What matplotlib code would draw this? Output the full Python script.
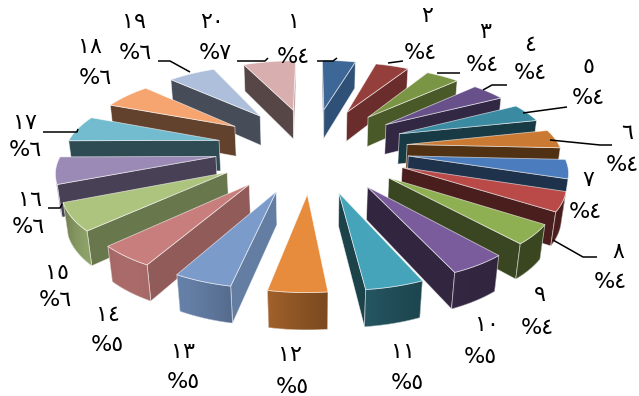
import numpy as np
import matplotlib
matplotlib.use("Agg")
import matplotlib.pyplot as plt
from matplotlib.patches import Polygon
from matplotlib.colors import to_rgb

# ---- data -------------------------------------------------------------
categories = list(range(1, 21))
shares = [4.3, 4.3, 4.3, 4.3, 4.3, 4.3, 4.3, 4.3, 4.3,
          4.8, 4.8, 4.8, 4.8, 4.8,
          6.1, 6.1, 6.1, 6.1, 6.1,
          6.8]
top_colors = ["#3D6797", "#953F3C", "#7A9543", "#68518A", "#3A8AA2", "#CB7A33",
              "#4B7DBE", "#B94A47", "#8FB052", "#7A5C9D", "#45A4BA", "#E78B3D",
              "#7B9BCB", "#C87E7C", "#ADC47F", "#9C8AB6", "#73BBCF", "#F6A470",
              "#AEBFDB", "#D8AEAE"]

# label anchors (pixel centres): number line, percent line
num_pos = [(294, 22), (427, 16), (485, 32), (530, 45), (588, 67), (627, 133),
           (588, 180), (618, 252), (540, 295), (487, 325), (403, 352), (290, 355),
           (183, 352), (108, 315), (57, 273), (30, 200), (25, 123), (90, 47),
           (134, 22), (212, 22)]
pct_pos = [(293, 57), (420, 53), (482, 65), (530, 73), (588, 98), (622, 165),
           (585, 212), (610, 282), (537, 328), (480, 357), (407, 383), (292, 387),
           (183, 382), (107, 345), (55, 300), (28, 227), (25, 150), (95, 78),
           (135, 53), (215, 53)]
leaders = {
    1: [(317, 61), (333, 61), (337, 58)],
    2: [(403, 61), (388, 63)],
    3: [(460, 73), (437, 73)],
    4: [(507, 85), (492, 85), (483, 90)],
    5: [(567, 107), (523, 113)],
    6: [(612, 145), (600, 145), (550, 140)],
    8: [(597, 257), (583, 257), (553, 240)],
    16: [(48, 208), (60, 208), (62, 204)],
    17: [(43, 132), (77, 132), (78, 129)],
    19: [(158, 61), (170, 61), (190, 72)],
    20: [(237, 61), (265, 61), (268, 58)],
}

AR_DIGITS = str.maketrans("0123456789", "٠١٢٣٤٥٦٧٨٩")


def ar(n):
    return str(n).translate(AR_DIGITS)


# ---- 3D pie geometry ------------------------------------------------------
W, HPX = 639, 396
CX, CY = 312, 179
R = 1.0
EXPLODE = 0.63
THICK = 0.23
ELEV = np.radians(28)
DIST = 6.0
FOCAL = 900.0

cam = np.array([0.0, -DIST * np.cos(ELEV), DIST * np.sin(ELEV)])
e_right = np.array([1.0, 0.0, 0.0])
e_fwd = np.array([0.0, np.cos(ELEV), -np.sin(ELEV)])
e_up = np.array([0.0, np.sin(ELEV), np.cos(ELEV)])


def project(P):
    P = np.atleast_2d(P)
    rel = P - cam
    zc = rel @ e_fwd
    return np.column_stack([FOCAL * (rel @ e_right) / zc,
                            FOCAL * (rel @ e_up) / zc]), zc


def dirv(phi):
    return np.array([np.sin(phi), np.cos(phi)])


def facing(normal, point):
    return np.dot(normal, cam - point) > 0


def shade(rgb, f):
    return np.clip(np.array(rgb) * f, 0, 1)


L_OUT = np.array([-0.6, -0.8])

total = sum(shares)
bounds = np.concatenate([[0.0], np.cumsum(shares)]) / total * 2 * np.pi

fig = plt.figure(figsize=(W / 100, HPX / 100), dpi=100)
ax = fig.add_axes([0, 0, 1, 1])
ax.axis("off")

EDGE = (1, 1, 1, 0.6)
zorder = [1.0]


def next_z():
    zorder[0] += 0.01
    return zorder[0]


slices = []
for i, v in enumerate(shares):
    a0, a1 = bounds[i], bounds[i + 1]
    mid = 0.5 * (a0 + a1)
    off = EXPLODE * dirv(mid)
    n = max(8, int(np.degrees(a1 - a0) / 1.0))
    phis = np.linspace(a0, a1, n)
    rim = np.array([off + R * dirv(p) for p in phis])
    cen = np.array([*(off + 0.5 * R * dirv(mid)), THICK / 2])
    _, zc = project(cen)
    slices.append(dict(i=i, a0=a0, a1=a1, off=off, phis=phis, rim=rim, depth=zc[0]))

slices.sort(key=lambda s: -s["depth"])

for s in slices:
    rgb = to_rgb(top_colors[s["i"]])
    off, rim, phis = s["off"], s["rim"], s["phis"]
    tip_t = np.array([*off, THICK])
    tip_b = np.array([*off, 0.0])

    # radial walls
    for ang, sign in ((s["a0"], -1), (s["a1"], 1)):
        nrm2 = sign * np.array([np.cos(ang), -np.sin(ang)])
        nrm = np.array([*nrm2, 0.0])
        o = off + R * dirv(ang)
        quad = np.array([tip_t, [*o, THICK], [*o, 0.0], tip_b])
        if facing(nrm, quad.mean(axis=0)):
            f = 0.4 + 0.42 * max(0.0, nrm2[0]) ** 2
            pts, _ = project(quad)
            ax.add_patch(Polygon(pts, closed=True, facecolor=shade(rgb, f),
                                 edgecolor=EDGE, lw=0.6, joinstyle="round",
                                 zorder=next_z()))

    # curved outer wall, shaded smoothly across its visible part
    vis, xs, cols = [], [], []
    for j in range(len(phis) - 1):
        pm = 0.5 * (phis[j] + phis[j + 1])
        nrm2 = dirv(pm)
        nrm = np.array([*nrm2, 0.0])
        pmid = np.array([*(off + R * nrm2), THICK / 2])
        if facing(nrm, pmid):
            f = 0.4 + 0.45 * max(0.0, float(nrm2 @ L_OUT)) ** 4
            vis.append(j)
            xs.append(project(pmid)[0][0, 0])
            cols.append(shade(rgb, f))
    if vis:
        j0, j1 = vis[0], vis[-1] + 1
        top_arc = np.array([[*rim[k], THICK] for k in range(j0, j1 + 1)])
        bot_arc = np.array([[*rim[k], 0.0] for k in range(j1, j0 - 1, -1)])
        pts, _ = project(np.vstack([top_arc, bot_arc]))
        base = Polygon(pts, closed=True, facecolor=np.mean(cols, axis=0),
                       edgecolor="none", zorder=next_z())
        ax.add_patch(base)
        xs = np.array(xs)
        cols = np.array(cols)
        order = np.argsort(xs)
        xmin, xmax = pts[:, 0].min(), pts[:, 0].max()
        ymin, ymax = pts[:, 1].min(), pts[:, 1].max()
        gx = np.linspace(xmin, xmax, 64)
        img = np.stack([np.interp(gx, xs[order], cols[order, c]) for c in range(3)],
                       axis=-1)[None, :, :]
        im = ax.imshow(img, extent=(xmin, xmax, ymin, ymax), aspect="auto",
                       interpolation="bilinear", zorder=next_z())
        im.set_clip_path(base)
        ax.add_patch(Polygon(pts, closed=True, facecolor="none",
                             edgecolor=EDGE, lw=0.6, joinstyle="round",
                             zorder=next_z()))

    # top face
    top = np.vstack([tip_t, np.column_stack([rim, np.full(len(rim), THICK)])])
    pts, _ = project(top)
    ax.add_patch(Polygon(pts, closed=True, facecolor=rgb,
                         edgecolor=EDGE, lw=0.6, joinstyle="round",
                         zorder=next_z()))


# ---- labels -----------------------------------------------------------
def px(p):
    return (p[0] - CX, CY - p[1])


for k, v in zip(categories, shares):
    ax.text(*px(num_pos[k - 1]), ar(k), ha="center", va="center",
            fontsize=16, family="DejaVu Sans", color="black", zorder=10)
    ax.text(*px(pct_pos[k - 1]), "%" + ar(int(v + 0.5)), ha="center",
            va="center", fontsize=16, family="DejaVu Sans", color="black",
            zorder=10)

for k, path in leaders.items():
    xy = np.array([px(p) for p in path])
    ax.plot(xy[:, 0], xy[:, 1], color="black", lw=1.1,
            solid_capstyle="butt", zorder=10)

ax.set_xlim(-CX, W - CX)
ax.set_ylim(CY - HPX, CY)

fig.savefig("out.png", dpi=100)
